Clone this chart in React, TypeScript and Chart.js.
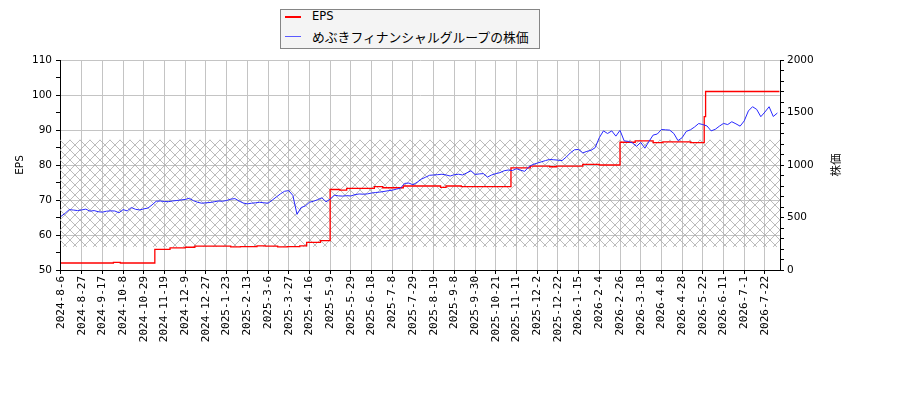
import React, { useEffect, useRef } from 'react';
import { Chart, registerables } from 'chart.js';

Chart.register(...registerables);

// x axis: trading-day index, one labelled tick every 15 days
const tickLabels = [
  '2024-8-6', '2024-8-27', '2024-9-17', '2024-10-8', '2024-10-29', '2024-11-19', '2024-12-9',
  '2024-12-27', '2025-1-23', '2025-2-13', '2025-3-6', '2025-3-27', '2025-4-16', '2025-5-9',
  '2025-5-29', '2025-6-18', '2025-7-8', '2025-7-29', '2025-8-19', '2025-9-8', '2025-9-30',
  '2025-10-21', '2025-11-11', '2025-12-2', '2025-12-22', '2026-1-15', '2026-2-4', '2026-2-26',
  '2026-3-18', '2026-4-8', '2026-4-28', '2026-5-22', '2026-6-11', '2026-7-1', '2026-7-22',
];
const tickStep = 15;

// share price, one reading every 3 trading days
const priceStep = 3;
const priceValues = [
  510, 540, 575, 571, 566, 572, 580, 560, 566, 555,
  551, 560, 563, 562, 545, 575, 563, 595, 578, 572,
  582, 590, 620, 655, 657, 652, 651, 658, 662, 667,
  672, 683, 660, 645, 636, 640, 643, 650, 657, 655,
  662, 675, 680, 657, 638, 630, 636, 640, 645, 640,
  636, 665, 695, 725, 750, 756, 710, 530, 595, 610,
  645, 655, 670, 688, 650, 675, 712, 706, 704, 708,
  705, 718, 724, 722, 725, 733, 738, 742, 748, 755,
  760, 770, 780, 825, 828, 812, 835, 865, 883, 902,
  905, 908, 912, 905, 895, 908, 912, 905, 925, 945,
  910, 915, 918, 885, 905, 918, 927, 945, 952, 947,
  965, 950, 940, 985, 1005, 1018, 1030, 1042, 1053, 1050,
  1046, 1042, 1075, 1115, 1145, 1148, 1115, 1130, 1140, 1165,
  1260, 1325, 1300, 1325, 1275, 1330, 1230, 1225, 1210, 1178,
  1215, 1160, 1225, 1285, 1295, 1338, 1335, 1332, 1300, 1232,
  1260, 1320, 1335, 1362, 1395, 1385, 1372, 1325, 1340, 1370,
  1396, 1385, 1412, 1392, 1370, 1420, 1515, 1555, 1530, 1460,
  1505, 1555, 1462, 1495,
];

// EPS: day index where the value changes, and the new value
const epsIndex = [
  0, 38, 43, 68, 79, 90, 97, 123, 130, 142, 148, 157, 164, 173, 178, 188, 195, 202, 207, 227,
  233, 248, 275, 279, 290, 326, 340, 354, 359, 378, 390, 405, 416, 429, 436, 456, 466, 467, 520,
];
const epsValues = [
  52.0, 52.2, 52.0, 55.9, 56.3, 56.5, 56.8, 56.6, 56.7, 56.9, 56.8, 56.6, 56.7, 56.9, 57.9, 58.4,
  73.0, 72.8, 73.3, 73.8, 73.5, 74.0, 73.6, 74.0, 73.8, 79.2, 79.7, 79.5, 79.7, 80.2, 80.0, 86.5,
  86.9, 86.4, 86.6, 86.4, 93.8, 101.0, 101.2,
];

// hatched band, in share-price units
const bandTop = 1240;
const bandBottom = 220;

const priceLabel = 'めぶきフィナンシャルグループの株価';

function makeHatch(): CanvasPattern | string {
  const c = document.createElement('canvas');
  c.width = 10;
  c.height = 10;
  const g = c.getContext('2d');
  if (!g) return 'rgba(0,0,0,0)';
  g.strokeStyle = '#ababab';
  g.lineWidth = 0.8;
  g.beginPath();
  g.moveTo(0, 0); g.lineTo(10, 10);
  g.moveTo(0, 10); g.lineTo(10, 0);
  g.stroke();
  return g.createPattern(c, 'repeat') || 'rgba(0,0,0,0)';
}

const hatchPlugin = {
  id: 'hatchBand',
  beforeDatasetsDraw(chart: Chart) {
    const { ctx, chartArea } = chart;
    const y1 = chart.scales.y1;
    const top = y1.getPixelForValue(bandTop);
    const bottom = y1.getPixelForValue(bandBottom);
    ctx.save();
    ctx.fillStyle = makeHatch();
    ctx.fillRect(chartArea.left, top, chartArea.right - chartArea.left, bottom - top);
    ctx.restore();
  },
};

const titlePlugin = {
  id: 'axisTitles',
  afterDraw(chart: Chart) {
    const { ctx, chartArea } = chart;
    const mid = (chartArea.top + chartArea.bottom) / 2;
    ctx.save();
    ctx.fillStyle = '#000';
    ctx.textAlign = 'center';
    ctx.textBaseline = 'middle';
    ctx.font = '10.5px "DejaVu Sans"';
    ctx.translate(20, mid);
    ctx.rotate(-Math.PI / 2);
    ctx.fillText('EPS', 0, 0);
    ctx.restore();

    ctx.save();
    ctx.fillStyle = '#000';
    ctx.textAlign = 'center';
    ctx.textBaseline = 'middle';
    ctx.font = '11.5px "Noto Sans CJK JP"';
    ctx.translate(836, mid);
    ctx.rotate(-Math.PI / 2);
    ctx.fillText('株価', 0, 0);
    ctx.restore();
  },
};

const tickFont = { family: 'DejaVu Sans', size: 10.5 };

export default function App() {
  const canvasRef = useRef<HTMLCanvasElement>(null);
  const chartRef = useRef<Chart | null>(null);

  useEffect(() => {
    document.body.style.margin = '0';
    if (!canvasRef.current) return;
    if (chartRef.current) chartRef.current.destroy();

    chartRef.current = new Chart(canvasRef.current, {
      type: 'line',
      data: {
        datasets: [
          {
            label: priceLabel,
            data: priceValues.map((v, i) => ({ x: i * priceStep, y: v })),
            yAxisID: 'y1',
            borderColor: 'rgb(40,40,255)',
            borderWidth: 1,
            pointRadius: 0,
            tension: 0,
            order: 1,
          },
          {
            label: 'EPS',
            data: epsIndex.map((x, i) => ({ x, y: epsValues[i] })),
            yAxisID: 'y',
            borderColor: '#ff0000',
            borderWidth: 1.3,
            pointRadius: 0,
            stepped: 'before',
            order: 2,
          },
        ],
      },
      options: {
        responsive: false,
        animation: false,
        devicePixelRatio: 1,
        layout: { padding: { top: 60, left: 0, right: 0, bottom: 0 } },
        plugins: { legend: { display: false }, tooltip: { enabled: false } },
        scales: {
          x: {
            type: 'linear',
            min: -0.7,
            max: 520.9,
            afterBuildTicks: (s: any) => {
              s.ticks = tickLabels.map((_, i) => ({ value: i * tickStep }));
            },
            afterFit: (s: any) => { s.height = 130; },
            ticks: {
              autoSkip: false,
              maxRotation: 90,
              minRotation: 90,
              padding: 2,
              color: '#000',
              font: { family: 'DejaVu Sans Mono', size: 11 },
              callback: (v: any) => tickLabels[Math.round(Number(v) / tickStep)] ?? '',
            },
            grid: { color: '#c4c4c4', lineWidth: 1, tickLength: 4, tickColor: '#000' },
            border: { color: '#000', width: 1 },
          },
          y: {
            position: 'left',
            min: 50,
            max: 110,
            afterBuildTicks: (s: any) => {
              const t = [];
              for (let v = 50; v <= 110; v += 5) t.push({ value: v });
              s.ticks = t;
            },
            afterFit: (s: any) => { s.width = 60; },
            ticks: {
              autoSkip: false,
              padding: 4,
              color: '#000',
              font: tickFont,
              callback: (v: any) => (Number(v) % 10 === 0 ? String(v) : ''),
            },
            grid: {
              color: (c: any) => (c.tick && c.tick.value % 10 === 0 ? '#c4c4c4' : 'rgba(0,0,0,0)'),
              lineWidth: 1,
              tickLength: 4,
              tickColor: '#000',
            },
            border: { color: '#000', width: 1 },
          },
          y1: {
            position: 'right',
            min: 0,
            max: 2000,
            afterBuildTicks: (s: any) => {
              const t = [];
              for (let v = 0; v <= 2000; v += 100) t.push({ value: v });
              s.ticks = t;
            },
            afterFit: (s: any) => { s.width = 120; },
            ticks: {
              autoSkip: false,
              padding: 3,
              color: '#000',
              font: tickFont,
              callback: (v: any) => (Number(v) % 500 === 0 ? String(v) : ''),
            },
            grid: { drawOnChartArea: false, tickLength: 4, tickColor: '#000' },
            border: { color: '#000', width: 1 },
          },
        },
      },
      plugins: [hatchPlugin, titlePlugin],
    });

    return () => { chartRef.current?.destroy(); };
  }, []);

  return (
    <div style={{ position: 'relative', width: 900, height: 400 }}>
      <canvas ref={canvasRef} width={900} height={400} style={{ width: 900, height: 400 }} />
      {/* legend box */}
      <div
        style={{
          position: 'absolute', left: 280, top: 9, width: 260, height: 40,
          boxSizing: 'border-box', background: '#f4f4f4', border: '1px solid #858585',
        }}
      >
        <div style={{ position: 'absolute', left: 4, top: 5.5, width: 16, height: 2, background: '#ff0000' }} />
        <div
          style={{
            position: 'absolute', left: 31, top: -1, height: 14, lineHeight: '14px',
            fontFamily: '"DejaVu Sans"', fontSize: 11.5, color: '#000', whiteSpace: 'nowrap',
          }}
        >
          EPS
        </div>
        <div style={{ position: 'absolute', left: 4, top: 26, width: 16, height: 1.2, background: '#5a5aff' }} />
        <div
          style={{
            position: 'absolute', left: 31, top: 18.5, height: 16, lineHeight: '16px',
            fontFamily: '"Noto Sans CJK JP"', fontSize: 12.8, color: '#000', whiteSpace: 'nowrap',
          }}
        >
          {priceLabel}
        </div>
      </div>
    </div>
  );
}
